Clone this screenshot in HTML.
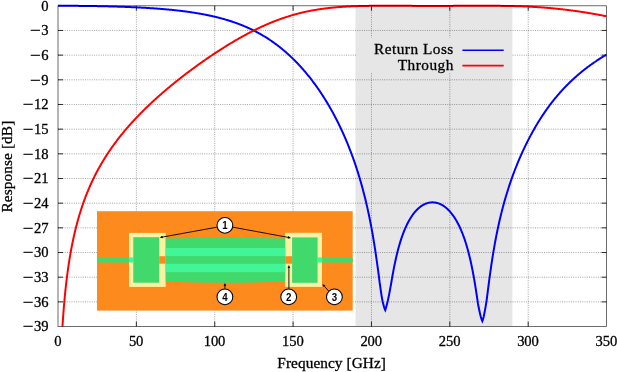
<!DOCTYPE html>
<html><head><meta charset="utf-8"><title>Filter response</title>
<style>html,body{margin:0;padding:0;background:#fff}svg{display:block}</style></head>
<body>
<svg width="617" height="372" viewBox="0 0 617 372">
<defs><clipPath id="pc"><rect x="58.00" y="3.78" width="548.55" height="322.77"/></clipPath></defs>
<rect x="0" y="0" width="617" height="372" fill="#fff"/>
<rect x="355.50" y="6.28" width="156.90" height="319.77" fill="#e6e6e6"/>
<path d="M136.36,5.78 V326.55 M214.73,5.78 V326.55 M293.09,5.78 V326.55 M371.46,5.78 V326.55 M449.82,5.78 V326.55 M528.19,5.78 V326.55 M58.00,301.88 H606.55 M58.00,277.20 H606.55 M58.00,252.53 H606.55 M58.00,227.85 H606.55 M58.00,203.18 H606.55 M58.00,178.50 H606.55 M58.00,153.83 H606.55 M58.00,129.15 H606.55 M58.00,104.48 H606.55 M58.00,79.80 H606.55 M58.00,55.13 H606.55 M58.00,30.45 H606.55" fill="none" stroke="#000" stroke-opacity="0.36" stroke-width="1" stroke-dasharray="1 1.25"/>
<rect x="356.5" y="37.5" width="155.5" height="35.5" fill="#e6e6e6"/>
<path d="M136.36,326.55 v-5 M136.36,5.78 v5 M214.73,326.55 v-5 M214.73,5.78 v5 M293.09,326.55 v-5 M293.09,5.78 v5 M371.46,326.55 v-5 M371.46,5.78 v5 M449.82,326.55 v-5 M449.82,5.78 v5 M528.19,326.55 v-5 M528.19,5.78 v5 M58.00,301.88 h5 M606.55,301.88 h-5 M58.00,277.20 h5 M606.55,277.20 h-5 M58.00,252.53 h5 M606.55,252.53 h-5 M58.00,227.85 h5 M606.55,227.85 h-5 M58.00,203.18 h5 M606.55,203.18 h-5 M58.00,178.50 h5 M606.55,178.50 h-5 M58.00,153.83 h5 M606.55,153.83 h-5 M58.00,129.15 h5 M606.55,129.15 h-5 M58.00,104.48 h5 M606.55,104.48 h-5 M58.00,79.80 h5 M606.55,79.80 h-5 M58.00,55.13 h5 M606.55,55.13 h-5 M58.00,30.45 h5 M606.55,30.45 h-5" fill="none" stroke="#000" stroke-width="0.8"/>
<g clip-path="url(#pc)" fill="none" stroke-width="2.0" stroke-linejoin="miter" stroke-miterlimit="4">
<path d="M58.00,5.78 L58.39,5.78 L58.78,5.78 L59.18,5.78 L59.57,5.78 L59.96,5.78 L60.35,5.78 L60.74,5.78 L61.13,5.78 L61.53,5.78 L61.92,5.78 L62.31,5.78 L62.70,5.78 L63.09,5.79 L63.49,5.79 L63.88,5.79 L64.27,5.79 L64.66,5.79 L65.05,5.79 L65.44,5.79 L65.84,5.79 L66.23,5.80 L66.62,5.80 L67.01,5.80 L67.40,5.80 L67.80,5.80 L68.19,5.80 L68.58,5.81 L68.97,5.81 L69.36,5.81 L69.75,5.81 L70.15,5.81 L70.54,5.82 L70.93,5.82 L71.32,5.82 L71.71,5.82 L72.11,5.82 L72.50,5.83 L72.89,5.83 L73.28,5.83 L73.67,5.83 L74.06,5.84 L74.46,5.84 L74.85,5.84 L75.24,5.85 L75.63,5.85 L76.02,5.85 L76.42,5.86 L76.81,5.86 L77.20,5.86 L77.59,5.87 L77.98,5.87 L78.37,5.87 L78.77,5.88 L79.16,5.88 L79.55,5.88 L79.94,5.89 L80.33,5.89 L80.73,5.90 L81.12,5.90 L81.51,5.90 L81.90,5.91 L82.29,5.91 L82.68,5.92 L83.08,5.92 L83.47,5.93 L83.86,5.93 L84.25,5.93 L84.64,5.94 L85.04,5.94 L85.43,5.95 L85.82,5.95 L86.21,5.96 L86.60,5.96 L86.99,5.97 L87.39,5.97 L87.78,5.98 L88.17,5.98 L88.56,5.99 L88.95,6.00 L89.35,6.00 L89.74,6.01 L90.13,6.01 L90.52,6.02 L90.91,6.02 L91.30,6.03 L91.70,6.04 L92.09,6.04 L92.48,6.05 L92.87,6.05 L93.26,6.06 L93.66,6.07 L94.05,6.07 L94.44,6.08 L94.83,6.09 L95.22,6.09 L95.61,6.10 L96.01,6.11 L96.40,6.11 L96.79,6.12 L97.18,6.13 L97.57,6.14 L97.97,6.14 L98.36,6.15 L98.75,6.16 L99.14,6.17 L99.53,6.17 L99.92,6.18 L100.32,6.19 L100.71,6.20 L101.10,6.21 L101.49,6.21 L101.88,6.22 L102.28,6.23 L102.67,6.24 L103.06,6.25 L103.45,6.26 L103.84,6.26 L104.23,6.27 L104.63,6.28 L105.02,6.29 L105.41,6.30 L105.80,6.31 L106.19,6.32 L106.59,6.33 L106.98,6.34 L107.37,6.35 L107.76,6.36 L108.15,6.37 L108.54,6.38 L108.94,6.39 L109.33,6.40 L109.72,6.41 L110.11,6.42 L110.50,6.43 L110.90,6.44 L111.29,6.45 L111.68,6.46 L112.07,6.47 L112.46,6.48 L112.85,6.49 L113.25,6.50 L113.64,6.51 L114.03,6.52 L114.42,6.54 L114.81,6.55 L115.21,6.56 L115.60,6.57 L115.99,6.58 L116.38,6.59 L116.77,6.61 L117.17,6.62 L117.56,6.63 L117.95,6.64 L118.34,6.66 L118.73,6.67 L119.12,6.68 L119.52,6.69 L119.91,6.71 L120.30,6.72 L120.69,6.73 L121.08,6.75 L121.48,6.76 L121.87,6.77 L122.26,6.79 L122.65,6.80 L123.04,6.81 L123.43,6.83 L123.83,6.84 L124.22,6.86 L124.61,6.87 L125.00,6.89 L125.39,6.90 L125.79,6.92 L126.18,6.93 L126.57,6.95 L126.96,6.96 L127.35,6.98 L127.74,6.99 L128.14,7.01 L128.53,7.02 L128.92,7.04 L129.31,7.06 L129.70,7.07 L130.10,7.09 L130.49,7.10 L130.88,7.12 L131.27,7.14 L131.66,7.15 L132.05,7.17 L132.45,7.19 L132.84,7.21 L133.23,7.22 L133.62,7.24 L134.01,7.26 L134.41,7.28 L134.80,7.30 L135.19,7.31 L135.58,7.33 L135.97,7.35 L136.36,7.37 L136.76,7.39 L137.15,7.41 L137.54,7.43 L137.93,7.45 L138.32,7.47 L138.72,7.49 L139.11,7.51 L139.50,7.53 L139.89,7.55 L140.28,7.57 L140.67,7.59 L141.07,7.61 L141.46,7.63 L141.85,7.65 L142.24,7.67 L142.63,7.69 L143.03,7.71 L143.42,7.74 L143.81,7.76 L144.20,7.78 L144.59,7.80 L144.98,7.82 L145.38,7.85 L145.77,7.87 L146.16,7.89 L146.55,7.92 L146.94,7.94 L147.34,7.96 L147.73,7.99 L148.12,8.01 L148.51,8.04 L148.90,8.06 L149.29,8.08 L149.69,8.11 L150.08,8.13 L150.47,8.16 L150.86,8.19 L151.25,8.21 L151.65,8.24 L152.04,8.26 L152.43,8.29 L152.82,8.32 L153.21,8.34 L153.60,8.37 L154.00,8.40 L154.39,8.42 L154.78,8.45 L155.17,8.48 L155.56,8.51 L155.96,8.54 L156.35,8.56 L156.74,8.59 L157.13,8.62 L157.52,8.65 L157.91,8.68 L158.31,8.71 L158.70,8.74 L159.09,8.77 L159.48,8.80 L159.87,8.83 L160.27,8.86 L160.66,8.89 L161.05,8.93 L161.44,8.96 L161.83,8.99 L162.22,9.02 L162.62,9.05 L163.01,9.09 L163.40,9.12 L163.79,9.15 L164.18,9.19 L164.58,9.22 L164.97,9.25 L165.36,9.29 L165.75,9.32 L166.14,9.36 L166.53,9.39 L166.93,9.43 L167.32,9.46 L167.71,9.50 L168.10,9.54 L168.49,9.57 L168.89,9.61 L169.28,9.65 L169.67,9.68 L170.06,9.72 L170.45,9.76 L170.84,9.80 L171.24,9.84 L171.63,9.87 L172.02,9.91 L172.41,9.95 L172.80,9.99 L173.20,10.03 L173.59,10.07 L173.98,10.12 L174.37,10.16 L174.76,10.20 L175.15,10.24 L175.55,10.28 L175.94,10.32 L176.33,10.37 L176.72,10.41 L177.11,10.45 L177.51,10.50 L177.90,10.54 L178.29,10.59 L178.68,10.63 L179.07,10.68 L179.46,10.72 L179.86,10.77 L180.25,10.81 L180.64,10.86 L181.03,10.91 L181.42,10.96 L181.82,11.00 L182.21,11.05 L182.60,11.10 L182.99,11.15 L183.38,11.20 L183.77,11.25 L184.17,11.30 L184.56,11.35 L184.95,11.40 L185.34,11.45 L185.73,11.50 L186.13,11.56 L186.52,11.61 L186.91,11.66 L187.30,11.71 L187.69,11.77 L188.08,11.82 L188.48,11.88 L188.87,11.93 L189.26,11.99 L189.65,12.04 L190.04,12.10 L190.44,12.16 L190.83,12.21 L191.22,12.27 L191.61,12.33 L192.00,12.39 L192.39,12.45 L192.79,12.51 L193.18,12.57 L193.57,12.63 L193.96,12.69 L194.35,12.75 L194.75,12.81 L195.14,12.88 L195.53,12.94 L195.92,13.00 L196.31,13.07 L196.70,13.13 L197.10,13.20 L197.49,13.26 L197.88,13.33 L198.27,13.39 L198.66,13.46 L199.06,13.53 L199.45,13.60 L199.84,13.67 L200.23,13.73 L200.62,13.80 L201.01,13.87 L201.41,13.95 L201.80,14.02 L202.19,14.09 L202.58,14.16 L202.97,14.23 L203.37,14.31 L203.76,14.38 L204.15,14.46 L204.54,14.53 L204.93,14.61 L205.32,14.69 L205.72,14.76 L206.11,14.84 L206.50,14.92 L206.89,15.00 L207.28,15.08 L207.68,15.16 L208.07,15.24 L208.46,15.32 L208.85,15.40 L209.24,15.49 L209.63,15.57 L210.03,15.65 L210.42,15.74 L210.81,15.82 L211.20,15.91 L211.59,16.00 L211.99,16.08 L212.38,16.17 L212.77,16.26 L213.16,16.35 L213.55,16.44 L213.94,16.53 L214.34,16.62 L214.73,16.72 L215.12,16.81 L215.51,16.90 L215.90,17.00 L216.30,17.09 L216.69,17.19 L217.08,17.28 L217.47,17.38 L217.86,17.48 L218.25,17.58 L218.65,17.68 L219.04,17.78 L219.43,17.88 L219.82,17.98 L220.21,18.09 L220.61,18.19 L221.00,18.29 L221.39,18.40 L221.78,18.51 L222.17,18.61 L222.56,18.72 L222.96,18.83 L223.35,18.94 L223.74,19.05 L224.13,19.16 L224.52,19.27 L224.92,19.38 L225.31,19.50 L225.70,19.61 L226.09,19.73 L226.48,19.84 L226.88,19.96 L227.27,20.08 L227.66,20.20 L228.05,20.32 L228.44,20.44 L228.83,20.56 L229.23,20.68 L229.62,20.81 L230.01,20.93 L230.40,21.06 L230.79,21.19 L231.19,21.31 L231.58,21.44 L231.97,21.57 L232.36,21.70 L232.75,21.83 L233.14,21.97 L233.54,22.10 L233.93,22.23 L234.32,22.37 L234.71,22.51 L235.10,22.64 L235.50,22.78 L235.89,22.92 L236.28,23.06 L236.67,23.20 L237.06,23.35 L237.45,23.49 L237.85,23.64 L238.24,23.78 L238.63,23.93 L239.02,24.08 L239.41,24.23 L239.81,24.38 L240.20,24.53 L240.59,24.68 L240.98,24.84 L241.37,24.99 L241.76,25.15 L242.16,25.30 L242.55,25.46 L242.94,25.62 L243.33,25.78 L243.72,25.95 L244.12,26.11 L244.51,26.27 L244.90,26.44 L245.29,26.61 L245.68,26.78 L246.07,26.95 L246.47,27.12 L246.86,27.29 L247.25,27.46 L247.64,27.64 L248.03,27.81 L248.43,27.99 L248.82,28.17 L249.21,28.35 L249.60,28.53 L249.99,28.71 L250.38,28.90 L250.78,29.08 L251.17,29.27 L251.56,29.46 L251.95,29.65 L252.34,29.84 L252.74,30.03 L253.13,30.22 L253.52,30.42 L253.91,30.61 L254.30,30.81 L254.69,31.01 L255.09,31.21 L255.48,31.41 L255.87,31.62 L256.26,31.82 L256.65,32.03 L257.05,32.24 L257.44,32.45 L257.83,32.66 L258.22,32.87 L258.61,33.08 L259.00,33.30 L259.40,33.52 L259.79,33.73 L260.18,33.95 L260.57,34.18 L260.96,34.40 L261.36,34.62 L261.75,34.85 L262.14,35.08 L262.53,35.31 L262.92,35.54 L263.31,35.77 L263.71,36.01 L264.10,36.24 L264.49,36.48 L264.88,36.72 L265.27,36.96 L265.67,37.20 L266.06,37.45 L266.45,37.69 L266.84,37.94 L267.23,38.19 L267.62,38.44 L268.02,38.70 L268.41,38.95 L268.80,39.21 L269.19,39.46 L269.58,39.72 L269.98,39.99 L270.37,40.25 L270.76,40.51 L271.15,40.78 L271.54,41.05 L271.93,41.32 L272.33,41.59 L272.72,41.87 L273.11,42.14 L273.50,42.42 L273.89,42.70 L274.29,42.98 L274.68,43.27 L275.07,43.55 L275.46,43.84 L275.85,44.13 L276.24,44.42 L276.64,44.71 L277.03,45.01 L277.42,45.30 L277.81,45.60 L278.20,45.90 L278.60,46.21 L278.99,46.51 L279.38,46.82 L279.77,47.13 L280.16,47.44 L280.55,47.75 L280.95,48.07 L281.34,48.38 L281.73,48.70 L282.12,49.02 L282.51,49.35 L282.91,49.67 L283.30,50.00 L283.69,50.33 L284.08,50.66 L284.47,50.99 L284.86,51.33 L285.26,51.67 L285.65,52.01 L286.04,52.35 L286.43,52.69 L286.82,53.04 L287.22,53.39 L287.61,53.74 L288.00,54.09 L288.39,54.45 L288.78,54.80 L289.17,55.16 L289.57,55.52 L289.96,55.89 L290.35,56.26 L290.74,56.62 L291.13,57.00 L291.53,57.37 L291.92,57.74 L292.31,58.12 L292.70,58.50 L293.09,58.89 L293.48,59.25 L293.88,59.64 L294.27,60.03 L294.66,60.42 L295.05,60.82 L295.44,61.21 L295.84,61.61 L296.23,62.01 L296.62,62.42 L297.01,62.82 L297.40,63.23 L297.79,63.64 L298.19,64.06 L298.58,64.47 L298.97,64.89 L299.36,65.32 L299.75,65.74 L300.15,66.17 L300.54,66.60 L300.93,67.03 L301.32,67.46 L301.71,67.90 L302.10,68.34 L302.50,68.78 L302.89,69.23 L303.28,69.67 L303.67,70.12 L304.06,70.58 L304.46,71.03 L304.85,71.49 L305.24,71.95 L305.63,72.42 L306.02,72.88 L306.41,73.35 L306.81,73.83 L307.20,74.30 L307.59,74.78 L307.98,75.26 L308.37,75.75 L308.77,76.23 L309.16,76.72 L309.55,77.22 L309.94,77.71 L310.33,78.21 L310.72,78.71 L311.12,79.22 L311.51,79.72 L311.90,80.24 L312.29,80.75 L312.68,81.27 L313.08,81.79 L313.47,82.31 L313.86,82.84 L314.25,83.37 L314.64,83.90 L315.03,84.43 L315.43,84.97 L315.82,85.52 L316.21,86.06 L316.60,86.61 L316.99,87.16 L317.39,87.72 L317.78,88.28 L318.17,88.84 L318.56,89.41 L318.95,89.98 L319.34,90.55 L319.74,91.13 L320.13,91.71 L320.52,92.29 L320.91,92.88 L321.30,93.47 L321.70,94.06 L322.09,94.66 L322.48,95.26 L322.87,95.87 L323.26,96.48 L323.65,97.09 L324.05,97.71 L324.44,98.33 L324.83,98.96 L325.22,99.59 L325.61,100.22 L326.01,100.86 L326.40,101.50 L326.79,102.14 L327.18,102.79 L327.57,103.45 L327.96,104.10 L328.36,104.77 L328.75,105.43 L329.14,106.10 L329.53,106.78 L329.92,107.46 L330.32,108.14 L330.71,108.83 L331.10,109.53 L331.49,110.22 L331.88,110.93 L332.27,111.64 L332.67,112.35 L333.06,113.06 L333.45,113.79 L333.84,114.51 L334.23,115.25 L334.63,115.98 L335.02,116.73 L335.41,117.47 L335.80,118.23 L336.19,118.99 L336.59,119.75 L336.98,120.52 L337.37,121.29 L337.76,122.07 L338.15,122.86 L338.54,123.65 L338.94,124.45 L339.33,125.25 L339.72,126.06 L340.11,126.88 L340.50,127.70 L340.90,128.53 L341.29,129.37 L341.68,130.21 L342.07,131.06 L342.46,131.91 L342.85,132.77 L343.25,133.64 L343.64,134.52 L344.03,135.40 L344.42,136.29 L344.81,137.19 L345.21,138.09 L345.60,139.00 L345.99,139.92 L346.38,140.85 L346.77,141.78 L347.16,142.73 L347.56,143.68 L347.95,144.64 L348.34,145.61 L348.73,146.59 L349.12,147.57 L349.52,148.57 L349.91,149.57 L350.30,150.59 L350.69,151.61 L351.08,152.64 L351.47,153.69 L351.87,154.74 L352.26,155.80 L352.65,156.88 L353.04,157.96 L353.43,159.06 L353.83,160.17 L354.22,161.29 L354.61,162.42 L355.00,163.56 L355.39,164.71 L355.78,165.88 L356.18,167.06 L356.57,168.25 L356.96,169.46 L357.35,170.68 L357.74,171.91 L358.14,173.16 L358.53,174.43 L358.92,175.70 L359.31,177.00 L359.70,178.31 L360.09,179.63 L360.49,180.98 L360.88,182.34 L361.27,183.72 L361.66,185.11 L362.05,186.53 L362.45,187.96 L362.84,189.42 L363.23,190.89 L363.62,192.39 L364.01,193.90 L364.40,195.44 L364.80,197.00 L365.19,198.59 L365.58,200.20 L365.97,201.83 L366.36,203.50 L366.76,205.18 L367.15,206.90 L367.54,208.64 L367.93,210.42 L368.32,212.22 L368.71,214.05 L369.11,215.92 L369.50,217.82 L369.89,219.76 L370.28,221.73 L370.67,223.74 L371.07,225.79 L371.46,227.88 L371.85,230.01 L372.24,232.18 L372.63,234.40 L373.02,236.66 L373.42,238.97 L373.81,241.32 L374.20,243.73 L374.59,246.19 L374.98,248.70 L375.38,251.26 L375.77,253.87 L376.16,256.54 L376.55,259.27 L376.94,262.05 L377.33,264.88 L377.73,267.76 L378.12,270.68 L378.51,273.65 L378.90,276.66 L379.29,279.69 L379.69,282.74 L380.08,285.23 L380.39,287.54 L380.70,289.81 L381.02,292.00 L381.33,294.10 L381.64,296.09 L381.96,297.94 L382.27,299.65 L382.58,301.18 L382.90,302.54 L383.21,303.82 L383.53,305.03 L383.84,306.16 L384.15,307.21 L384.47,308.16 L384.78,309.02 L385.09,309.77 L385.25,310.10 L385.56,309.12 L385.88,308.08 L386.19,307.00 L386.50,305.87 L386.82,304.70 L387.13,303.47 L387.44,302.20 L387.76,300.88 L388.07,299.48 L388.38,298.02 L388.70,296.51 L389.01,294.95 L389.32,293.34 L389.64,291.70 L389.95,290.03 L390.26,288.34 L390.58,286.64 L391.05,284.08 L391.44,281.73 L391.83,279.43 L392.22,277.17 L392.62,274.96 L393.01,272.81 L393.40,270.71 L393.79,268.66 L394.18,266.67 L394.57,264.73 L394.97,262.84 L395.36,261.01 L395.75,259.23 L396.14,257.50 L396.53,255.82 L396.93,254.18 L397.32,252.59 L397.71,251.05 L398.10,249.55 L398.49,248.09 L398.88,246.67 L399.28,245.29 L399.67,243.95 L400.06,242.64 L400.45,241.37 L400.84,240.14 L401.24,238.94 L401.63,237.77 L402.02,236.63 L402.41,235.53 L402.80,234.45 L403.19,233.40 L403.59,232.38 L403.98,231.38 L404.37,230.41 L404.76,229.47 L405.15,228.55 L405.55,227.66 L405.94,226.79 L406.33,225.94 L406.72,225.11 L407.11,224.30 L407.50,223.52 L407.90,222.75 L408.29,222.01 L408.68,221.28 L409.07,220.58 L409.46,219.89 L409.86,219.22 L410.25,218.57 L410.64,217.93 L411.03,217.31 L411.42,216.71 L411.81,216.12 L412.21,215.55 L412.60,215.00 L412.99,214.46 L413.38,213.93 L413.77,213.42 L414.17,212.92 L414.56,212.44 L414.95,211.97 L415.34,211.52 L415.73,211.07 L416.12,210.65 L416.52,210.23 L416.91,209.82 L417.30,209.43 L417.69,209.05 L418.08,208.69 L418.48,208.33 L418.87,207.99 L419.26,207.65 L419.65,207.33 L420.04,207.02 L420.43,206.72 L420.83,206.43 L421.22,206.16 L421.61,205.89 L422.00,205.63 L422.39,205.39 L422.79,205.15 L423.18,204.93 L423.57,204.71 L423.96,204.50 L424.35,204.31 L424.74,204.12 L425.14,203.95 L425.53,203.78 L425.92,203.62 L426.31,203.48 L426.70,203.34 L427.10,203.21 L427.49,203.09 L427.88,202.98 L428.27,202.88 L428.66,202.78 L429.05,202.70 L429.45,202.63 L429.84,202.56 L430.23,202.51 L430.62,202.46 L431.01,202.42 L431.41,202.39 L431.80,202.37 L432.19,202.36 L432.58,202.36 L432.97,202.36 L433.36,202.38 L433.76,202.40 L434.15,202.43 L434.54,202.48 L434.93,202.53 L435.32,202.59 L435.72,202.65 L436.11,202.73 L436.50,202.82 L436.89,202.91 L437.28,203.01 L437.67,203.13 L438.07,203.25 L438.46,203.38 L438.85,203.52 L439.24,203.67 L439.63,203.83 L440.03,203.99 L440.42,204.17 L440.81,204.36 L441.20,204.55 L441.59,204.76 L441.99,204.97 L442.38,205.20 L442.77,205.43 L443.16,205.67 L443.55,205.93 L443.94,206.19 L444.34,206.47 L444.73,206.75 L445.12,207.05 L445.51,207.35 L445.90,207.67 L446.30,207.99 L446.69,208.33 L447.08,208.68 L447.47,209.04 L447.86,209.41 L448.25,209.79 L448.65,210.19 L449.04,210.59 L449.43,211.01 L449.82,211.44 L450.21,211.88 L450.61,212.33 L451.00,212.80 L451.39,213.28 L451.78,213.78 L452.17,214.28 L452.56,214.80 L452.96,215.34 L453.35,215.89 L453.74,216.45 L454.13,217.03 L454.52,217.62 L454.92,218.23 L455.31,218.85 L455.70,219.49 L456.09,220.15 L456.48,220.82 L456.87,221.51 L457.27,222.22 L457.66,222.95 L458.05,223.69 L458.44,224.46 L458.83,225.24 L459.23,226.04 L459.62,226.87 L460.01,227.71 L460.40,228.57 L460.79,229.46 L461.18,230.37 L461.58,231.30 L461.97,232.26 L462.36,233.24 L462.75,234.24 L463.14,235.28 L463.54,236.33 L463.93,237.42 L464.32,238.53 L464.71,239.67 L465.10,240.85 L465.49,242.05 L465.89,243.29 L466.28,244.55 L466.67,245.86 L467.06,247.20 L467.45,248.57 L467.85,249.98 L468.24,251.44 L468.63,252.93 L469.02,254.46 L469.41,256.04 L469.80,257.66 L470.20,259.33 L470.59,261.05 L470.98,262.82 L471.37,264.63 L471.76,266.51 L472.16,268.43 L472.55,270.41 L472.94,272.45 L473.33,274.55 L473.72,276.71 L474.11,278.93 L474.51,281.21 L474.90,283.55 L475.29,285.95 L475.68,288.41 L476.07,290.92 L476.47,293.48 L476.86,296.08 L477.25,298.71 L477.64,301.37 L478.03,304.02 L478.35,305.64 L478.66,307.24 L478.97,308.80 L479.29,310.31 L479.60,311.78 L479.91,313.18 L480.23,314.52 L480.54,315.78 L480.85,316.96 L481.17,318.05 L481.48,319.04 L481.79,319.93 L482.11,320.70 L482.34,321.20 L482.66,320.32 L482.97,319.31 L483.28,318.17 L483.60,316.91 L483.91,315.55 L484.22,314.08 L484.54,312.53 L484.85,310.89 L485.16,309.17 L485.48,307.40 L485.79,305.56 L486.10,303.68 L486.42,301.75 L486.65,300.29 L487.04,297.17 L487.44,294.04 L487.83,290.93 L488.22,287.84 L488.61,284.78 L489.00,281.77 L489.40,278.81 L489.79,275.91 L490.18,273.06 L490.57,270.28 L490.96,267.55 L491.35,264.88 L491.75,262.28 L492.14,259.73 L492.53,257.24 L492.92,254.81 L493.31,252.43 L493.71,250.10 L494.10,247.83 L494.49,245.60 L494.88,243.43 L495.27,241.30 L495.66,239.21 L496.06,237.17 L496.45,235.17 L496.84,233.21 L497.23,231.29 L497.62,229.41 L498.02,227.57 L498.41,225.76 L498.80,223.98 L499.19,222.23 L499.58,220.52 L499.97,218.84 L500.37,217.18 L500.76,215.56 L501.15,213.96 L501.54,212.38 L501.93,210.84 L502.33,209.31 L502.72,207.81 L503.11,206.34 L503.50,204.88 L503.89,203.45 L504.28,202.04 L504.68,200.65 L505.07,199.28 L505.46,197.92 L505.85,196.59 L506.24,195.27 L506.64,193.97 L507.03,192.69 L507.42,191.43 L507.81,190.18 L508.20,188.94 L508.59,187.72 L508.99,186.52 L509.38,185.33 L509.77,184.15 L510.16,182.99 L510.55,181.84 L510.95,180.71 L511.34,179.59 L511.73,178.47 L512.12,177.38 L512.51,176.29 L512.90,175.21 L513.30,174.15 L513.69,173.10 L514.08,172.05 L514.47,171.02 L514.86,170.00 L515.26,168.99 L515.65,167.99 L516.04,166.99 L516.43,166.01 L516.82,165.04 L517.21,164.07 L517.61,163.12 L518.00,162.17 L518.39,161.23 L518.78,160.30 L519.17,159.38 L519.57,158.47 L519.96,157.56 L520.35,156.66 L520.74,155.77 L521.13,154.89 L521.52,154.01 L521.92,153.14 L522.31,152.28 L522.70,151.42 L523.09,150.58 L523.48,149.73 L523.88,148.90 L524.27,148.07 L524.66,147.25 L525.05,146.43 L525.44,145.62 L525.83,144.82 L526.23,144.02 L526.62,143.23 L527.01,142.44 L527.40,141.66 L527.79,140.89 L528.19,140.12 L528.58,139.36 L528.97,138.60 L529.36,137.85 L529.75,137.10 L530.14,136.36 L530.54,135.62 L530.93,134.89 L531.32,134.17 L531.71,133.45 L532.10,132.74 L532.50,132.03 L532.89,131.32 L533.28,130.62 L533.67,129.93 L534.06,129.24 L534.45,128.55 L534.85,127.87 L535.24,127.20 L535.63,126.53 L536.02,125.86 L536.41,125.20 L536.81,124.55 L537.20,123.89 L537.59,123.25 L537.98,122.60 L538.37,121.97 L538.76,121.33 L539.16,120.70 L539.55,120.08 L539.94,119.46 L540.33,118.84 L540.72,118.23 L541.12,117.62 L541.51,117.02 L541.90,116.42 L542.29,115.82 L542.68,115.23 L543.07,114.64 L543.47,114.06 L543.86,113.48 L544.25,112.90 L544.64,112.33 L545.03,111.76 L545.43,111.19 L545.82,110.63 L546.21,110.08 L546.60,109.52 L546.99,108.97 L547.38,108.43 L547.78,107.89 L548.17,107.35 L548.56,106.81 L548.95,106.28 L549.34,105.75 L549.74,105.23 L550.13,104.70 L550.52,104.19 L550.91,103.67 L551.30,103.16 L551.69,102.65 L552.09,102.15 L552.48,101.65 L552.87,101.15 L553.26,100.65 L553.65,100.16 L554.05,99.67 L554.44,99.19 L554.83,98.71 L555.22,98.23 L555.61,97.75 L556.01,97.28 L556.40,96.81 L556.79,96.34 L557.18,95.88 L557.57,95.42 L557.96,94.96 L558.36,94.50 L558.75,94.05 L559.14,93.60 L559.53,93.16 L559.92,92.71 L560.32,92.27 L560.71,91.83 L561.10,91.40 L561.49,90.96 L561.88,90.53 L562.27,90.11 L562.67,89.68 L563.06,89.26 L563.45,88.84 L563.84,88.42 L564.23,88.01 L564.63,87.60 L565.02,87.19 L565.41,86.78 L565.80,86.37 L566.19,85.97 L566.58,85.57 L566.98,85.17 L567.37,84.78 L567.76,84.39 L568.15,84.00 L568.54,83.61 L568.94,83.22 L569.33,82.84 L569.72,82.46 L570.11,82.08 L570.50,81.70 L570.89,81.32 L571.29,80.95 L571.68,80.58 L572.07,80.21 L572.46,79.85 L572.85,79.48 L573.25,79.12 L573.64,78.76 L574.03,78.40 L574.42,78.05 L574.81,77.69 L575.20,77.34 L575.60,76.99 L575.99,76.64 L576.38,76.30 L576.77,75.95 L577.16,75.61 L577.56,75.27 L577.95,74.93 L578.34,74.59 L578.73,74.26 L579.12,73.93 L579.51,73.60 L579.91,73.27 L580.30,72.94 L580.69,72.62 L581.08,72.29 L581.47,71.97 L581.87,71.65 L582.26,71.33 L582.65,71.02 L583.04,70.70 L583.43,70.39 L583.82,70.08 L584.22,69.77 L584.61,69.46 L585.00,69.15 L585.39,68.85 L585.78,68.55 L586.18,68.24 L586.57,67.95 L586.96,67.65 L587.35,67.35 L587.74,67.06 L588.13,66.76 L588.53,66.47 L588.92,66.18 L589.31,65.89 L589.70,65.61 L590.09,65.32 L590.49,65.04 L590.88,64.76 L591.27,64.47 L591.66,64.20 L592.05,63.92 L592.44,63.64 L592.84,63.37 L593.23,63.09 L593.62,62.82 L594.01,62.55 L594.40,62.28 L594.80,62.02 L595.19,61.75 L595.58,61.48 L595.97,61.22 L596.36,60.96 L596.75,60.70 L597.15,60.44 L597.54,60.18 L597.93,59.93 L598.32,59.67 L598.71,59.42 L599.11,59.16 L599.50,58.91 L599.89,58.66 L600.28,58.42 L600.67,58.17 L601.06,57.92 L601.46,57.68 L601.85,57.44 L602.24,57.19 L602.63,56.95 L603.02,56.71 L603.42,56.48 L603.81,56.24 L604.20,56.00 L604.59,55.77 L604.98,55.54 L605.37,55.30 L605.77,55.07 L606.16,54.84 L606.55,54.62" stroke="#0000ff"/>
<path d="M60.35,372.23 L60.74,361.24 L61.13,351.72 L61.53,343.33 L61.92,335.83 L62.31,329.04 L62.70,322.85 L63.09,317.15 L63.49,311.88 L63.88,306.97 L64.27,302.38 L64.66,298.06 L65.05,294.00 L65.44,290.15 L65.84,286.51 L66.23,283.04 L66.62,279.73 L67.01,276.57 L67.40,273.54 L67.80,270.64 L68.19,267.85 L68.58,265.17 L68.97,262.58 L69.36,260.09 L69.75,257.68 L70.15,255.35 L70.54,253.09 L70.93,250.90 L71.32,248.78 L71.71,246.72 L72.11,244.71 L72.50,242.76 L72.89,240.87 L73.28,239.02 L73.67,237.22 L74.06,235.46 L74.46,233.74 L74.85,232.07 L75.24,230.43 L75.63,228.83 L76.02,227.26 L76.42,225.73 L76.81,224.22 L77.20,222.75 L77.59,221.31 L77.98,219.90 L78.37,218.51 L78.77,217.15 L79.16,215.81 L79.55,214.50 L79.94,213.21 L80.33,211.95 L80.73,210.70 L81.12,209.48 L81.51,208.27 L81.90,207.09 L82.29,205.92 L82.68,204.78 L83.08,203.64 L83.47,202.53 L83.86,201.43 L84.25,200.35 L84.64,199.29 L85.04,198.24 L85.43,197.20 L85.82,196.18 L86.21,195.17 L86.60,194.18 L86.99,193.19 L87.39,192.23 L87.78,191.27 L88.17,190.32 L88.56,189.39 L88.95,188.47 L89.35,187.56 L89.74,186.66 L90.13,185.77 L90.52,184.89 L90.91,184.02 L91.30,183.15 L91.70,182.30 L92.09,181.46 L92.48,180.63 L92.87,179.81 L93.26,178.99 L93.66,178.18 L94.05,177.39 L94.44,176.59 L94.83,175.81 L95.22,175.04 L95.61,174.27 L96.01,173.51 L96.40,172.76 L96.79,172.01 L97.18,171.27 L97.57,170.54 L97.97,169.81 L98.36,169.09 L98.75,168.38 L99.14,167.67 L99.53,166.97 L99.92,166.28 L100.32,165.59 L100.71,164.90 L101.10,164.23 L101.49,163.55 L101.88,162.89 L102.28,162.22 L102.67,161.57 L103.06,160.92 L103.45,160.27 L103.84,159.63 L104.23,158.99 L104.63,158.36 L105.02,157.73 L105.41,157.11 L105.80,156.49 L106.19,155.88 L106.59,155.27 L106.98,154.66 L107.37,154.06 L107.76,153.47 L108.15,152.87 L108.54,152.29 L108.94,151.70 L109.33,151.12 L109.72,150.54 L110.11,149.97 L110.50,149.40 L110.90,148.83 L111.29,148.27 L111.68,147.71 L112.07,147.15 L112.46,146.60 L112.85,146.05 L113.25,145.51 L113.64,144.97 L114.03,144.43 L114.42,143.89 L114.81,143.36 L115.21,142.83 L115.60,142.30 L115.99,141.78 L116.38,141.25 L116.77,140.74 L117.17,140.22 L117.56,139.71 L117.95,139.20 L118.34,138.69 L118.73,138.19 L119.12,137.68 L119.52,137.18 L119.91,136.69 L120.30,136.19 L120.69,135.70 L121.08,135.21 L121.48,134.72 L121.87,134.24 L122.26,133.76 L122.65,133.28 L123.04,132.80 L123.43,132.33 L123.83,131.85 L124.22,131.38 L124.61,130.91 L125.00,130.45 L125.39,129.98 L125.79,129.52 L126.18,129.06 L126.57,128.60 L126.96,128.14 L127.35,127.69 L127.74,127.24 L128.14,126.79 L128.53,126.34 L128.92,125.89 L129.31,125.45 L129.70,125.01 L130.10,124.56 L130.49,124.13 L130.88,123.69 L131.27,123.25 L131.66,122.82 L132.05,122.39 L132.45,121.96 L132.84,121.53 L133.23,121.10 L133.62,120.67 L134.01,120.25 L134.41,119.83 L134.80,119.41 L135.19,118.99 L135.58,118.57 L135.97,118.16 L136.36,117.74 L136.76,117.33 L137.15,116.92 L137.54,116.51 L137.93,116.10 L138.32,115.69 L138.72,115.29 L139.11,114.88 L139.50,114.48 L139.89,114.08 L140.28,113.68 L140.67,113.28 L141.07,112.88 L141.46,112.49 L141.85,112.09 L142.24,111.70 L142.63,111.31 L143.03,110.92 L143.42,110.53 L143.81,110.14 L144.20,109.75 L144.59,109.36 L144.98,108.98 L145.38,108.60 L145.77,108.21 L146.16,107.83 L146.55,107.45 L146.94,107.08 L147.34,106.70 L147.73,106.32 L148.12,105.95 L148.51,105.57 L148.90,105.20 L149.29,104.83 L149.69,104.46 L150.08,104.09 L150.47,103.72 L150.86,103.35 L151.25,102.98 L151.65,102.62 L152.04,102.25 L152.43,101.89 L152.82,101.53 L153.21,101.17 L153.60,100.81 L154.00,100.45 L154.39,100.09 L154.78,99.73 L155.17,99.37 L155.56,99.02 L155.96,98.66 L156.35,98.31 L156.74,97.96 L157.13,97.61 L157.52,97.25 L157.91,96.90 L158.31,96.56 L158.70,96.21 L159.09,95.86 L159.48,95.51 L159.87,95.17 L160.27,94.82 L160.66,94.48 L161.05,94.14 L161.44,93.79 L161.83,93.45 L162.22,93.11 L162.62,92.77 L163.01,92.43 L163.40,92.10 L163.79,91.76 L164.18,91.42 L164.58,91.09 L164.97,90.75 L165.36,90.42 L165.75,90.09 L166.14,89.75 L166.53,89.42 L166.93,89.09 L167.32,88.76 L167.71,88.43 L168.10,88.10 L168.49,87.77 L168.89,87.45 L169.28,87.12 L169.67,86.79 L170.06,86.47 L170.45,86.15 L170.84,85.82 L171.24,85.50 L171.63,85.18 L172.02,84.85 L172.41,84.53 L172.80,84.21 L173.20,83.89 L173.59,83.58 L173.98,83.26 L174.37,82.94 L174.76,82.62 L175.15,82.31 L175.55,81.99 L175.94,81.68 L176.33,81.36 L176.72,81.05 L177.11,80.74 L177.51,80.43 L177.90,80.11 L178.29,79.80 L178.68,79.49 L179.07,79.18 L179.46,78.87 L179.86,78.57 L180.25,78.26 L180.64,77.95 L181.03,77.64 L181.42,77.34 L181.82,77.03 L182.21,76.73 L182.60,76.42 L182.99,76.12 L183.38,75.82 L183.77,75.52 L184.17,75.21 L184.56,74.91 L184.95,74.61 L185.34,74.31 L185.73,74.01 L186.13,73.71 L186.52,73.42 L186.91,73.12 L187.30,72.82 L187.69,72.53 L188.08,72.23 L188.48,71.93 L188.87,71.64 L189.26,71.35 L189.65,71.05 L190.04,70.76 L190.44,70.47 L190.83,70.17 L191.22,69.88 L191.61,69.59 L192.00,69.30 L192.39,69.01 L192.79,68.72 L193.18,68.44 L193.57,68.15 L193.96,67.86 L194.35,67.57 L194.75,67.29 L195.14,67.00 L195.53,66.72 L195.92,66.43 L196.31,66.15 L196.70,65.86 L197.10,65.58 L197.49,65.30 L197.88,65.01 L198.27,64.73 L198.66,64.45 L199.06,64.17 L199.45,63.89 L199.84,63.61 L200.23,63.33 L200.62,63.06 L201.01,62.78 L201.41,62.50 L201.80,62.22 L202.19,61.95 L202.58,61.67 L202.97,61.40 L203.37,61.12 L203.76,60.85 L204.15,60.57 L204.54,60.30 L204.93,60.03 L205.32,59.76 L205.72,59.49 L206.11,59.22 L206.50,58.94 L206.89,58.68 L207.28,58.41 L207.68,58.14 L208.07,57.87 L208.46,57.60 L208.85,57.33 L209.24,57.07 L209.63,56.80 L210.03,56.54 L210.42,56.27 L210.81,56.01 L211.20,55.74 L211.59,55.48 L211.99,55.22 L212.38,54.95 L212.77,54.69 L213.16,54.43 L213.55,54.17 L213.94,53.91 L214.34,53.65 L214.73,53.39 L215.12,53.13 L215.51,52.87 L215.90,52.62 L216.30,52.36 L216.69,52.10 L217.08,51.85 L217.47,51.59 L217.86,51.34 L218.25,51.08 L218.65,50.83 L219.04,50.58 L219.43,50.32 L219.82,50.07 L220.21,49.82 L220.61,49.57 L221.00,49.32 L221.39,49.07 L221.78,48.82 L222.17,48.57 L222.56,48.32 L222.96,48.08 L223.35,47.83 L223.74,47.58 L224.13,47.34 L224.52,47.09 L224.92,46.85 L225.31,46.60 L225.70,46.36 L226.09,46.12 L226.48,45.87 L226.88,45.63 L227.27,45.39 L227.66,45.15 L228.05,44.91 L228.44,44.67 L228.83,44.43 L229.23,44.19 L229.62,43.96 L230.01,43.72 L230.40,43.48 L230.79,43.25 L231.19,43.01 L231.58,42.78 L231.97,42.54 L232.36,42.31 L232.75,42.08 L233.14,41.84 L233.54,41.61 L233.93,41.38 L234.32,41.15 L234.71,40.92 L235.10,40.69 L235.50,40.46 L235.89,40.24 L236.28,40.01 L236.67,39.78 L237.06,39.56 L237.45,39.33 L237.85,39.11 L238.24,38.88 L238.63,38.66 L239.02,38.43 L239.41,38.21 L239.81,37.99 L240.20,37.77 L240.59,37.55 L240.98,37.33 L241.37,37.11 L241.76,36.89 L242.16,36.67 L242.55,36.46 L242.94,36.24 L243.33,36.03 L243.72,35.81 L244.12,35.60 L244.51,35.38 L244.90,35.17 L245.29,34.96 L245.68,34.75 L246.07,34.54 L246.47,34.33 L246.86,34.12 L247.25,33.91 L247.64,33.70 L248.03,33.49 L248.43,33.28 L248.82,33.08 L249.21,32.87 L249.60,32.67 L249.99,32.46 L250.38,32.26 L250.78,32.06 L251.17,31.86 L251.56,31.66 L251.95,31.46 L252.34,31.26 L252.74,31.06 L253.13,30.86 L253.52,30.66 L253.91,30.46 L254.30,30.27 L254.69,30.07 L255.09,29.88 L255.48,29.69 L255.87,29.49 L256.26,29.30 L256.65,29.11 L257.05,28.92 L257.44,28.73 L257.83,28.54 L258.22,28.35 L258.61,28.16 L259.00,27.98 L259.40,27.79 L259.79,27.61 L260.18,27.42 L260.57,27.24 L260.96,27.06 L261.36,26.87 L261.75,26.69 L262.14,26.51 L262.53,26.33 L262.92,26.15 L263.31,25.98 L263.71,25.80 L264.10,25.62 L264.49,25.45 L264.88,25.27 L265.27,25.10 L265.67,24.93 L266.06,24.75 L266.45,24.58 L266.84,24.41 L267.23,24.24 L267.62,24.07 L268.02,23.90 L268.41,23.74 L268.80,23.57 L269.19,23.40 L269.58,23.24 L269.98,23.08 L270.37,22.91 L270.76,22.75 L271.15,22.59 L271.54,22.43 L271.93,22.27 L272.33,22.11 L272.72,21.95 L273.11,21.79 L273.50,21.64 L273.89,21.48 L274.29,21.33 L274.68,21.17 L275.07,21.02 L275.46,20.87 L275.85,20.72 L276.24,20.57 L276.64,20.42 L277.03,20.27 L277.42,20.12 L277.81,19.98 L278.20,19.83 L278.60,19.69 L278.99,19.54 L279.38,19.40 L279.77,19.26 L280.16,19.11 L280.55,18.97 L280.95,18.83 L281.34,18.69 L281.73,18.56 L282.12,18.42 L282.51,18.28 L282.91,18.15 L283.30,18.01 L283.69,17.88 L284.08,17.75 L284.47,17.62 L284.86,17.48 L285.26,17.35 L285.65,17.22 L286.04,17.10 L286.43,16.97 L286.82,16.84 L287.22,16.72 L287.61,16.59 L288.00,16.47 L288.39,16.34 L288.78,16.22 L289.17,16.10 L289.57,15.98 L289.96,15.86 L290.35,15.74 L290.74,15.62 L291.13,15.51 L291.53,15.39 L291.92,15.28 L292.31,15.16 L292.70,15.05 L293.09,14.94 L293.48,14.82 L293.88,14.71 L294.27,14.60 L294.66,14.49 L295.05,14.39 L295.44,14.28 L295.84,14.17 L296.23,14.07 L296.62,13.96 L297.01,13.86 L297.40,13.75 L297.79,13.65 L298.19,13.55 L298.58,13.45 L298.97,13.35 L299.36,13.25 L299.75,13.15 L300.15,13.06 L300.54,12.96 L300.93,12.86 L301.32,12.77 L301.71,12.68 L302.10,12.58 L302.50,12.49 L302.89,12.40 L303.28,12.31 L303.67,12.22 L304.06,12.13 L304.46,12.04 L304.85,11.95 L305.24,11.87 L305.63,11.78 L306.02,11.70 L306.41,11.61 L306.81,11.53 L307.20,11.45 L307.59,11.37 L307.98,11.28 L308.37,11.20 L308.77,11.13 L309.16,11.05 L309.55,10.97 L309.94,10.89 L310.33,10.82 L310.72,10.74 L311.12,10.67 L311.51,10.59 L311.90,10.52 L312.29,10.45 L312.68,10.37 L313.08,10.30 L313.47,10.23 L313.86,10.16 L314.25,10.10 L314.64,10.03 L315.03,9.96 L315.43,9.89 L315.82,9.83 L316.21,9.76 L316.60,9.70 L316.99,9.63 L317.39,9.57 L317.78,9.51 L318.17,9.45 L318.56,9.39 L318.95,9.33 L319.34,9.27 L319.74,9.21 L320.13,9.15 L320.52,9.09 L320.91,9.04 L321.30,8.98 L321.70,8.93 L322.09,8.87 L322.48,8.82 L322.87,8.76 L323.26,8.71 L323.65,8.66 L324.05,8.61 L324.44,8.56 L324.83,8.51 L325.22,8.46 L325.61,8.41 L326.01,8.36 L326.40,8.31 L326.79,8.26 L327.18,8.22 L327.57,8.17 L327.96,8.13 L328.36,8.08 L328.75,8.04 L329.14,7.99 L329.53,7.95 L329.92,7.91 L330.32,7.87 L330.71,7.83 L331.10,7.79 L331.49,7.75 L331.88,7.71 L332.27,7.67 L332.67,7.63 L333.06,7.59 L333.45,7.55 L333.84,7.52 L334.23,7.48 L334.63,7.45 L335.02,7.41 L335.41,7.38 L335.80,7.34 L336.19,7.31 L336.59,7.27 L336.98,7.24 L337.37,7.21 L337.76,7.18 L338.15,7.15 L338.54,7.12 L338.94,7.09 L339.33,7.06 L339.72,7.03 L340.11,7.00 L340.50,6.97 L340.90,6.94 L341.29,6.91 L341.68,6.89 L342.07,6.86 L342.46,6.83 L342.85,6.81 L343.25,6.78 L343.64,6.76 L344.03,6.73 L344.42,6.71 L344.81,6.69 L345.21,6.66 L345.60,6.64 L345.99,6.62 L346.38,6.60 L346.77,6.58 L347.16,6.55 L347.56,6.53 L347.95,6.51 L348.34,6.49 L348.73,6.47 L349.12,6.45 L349.52,6.44 L349.91,6.42 L350.30,6.40 L350.69,6.38 L351.08,6.36 L351.47,6.35 L351.87,6.33 L352.26,6.31 L352.65,6.30 L353.04,6.28 L353.43,6.27 L353.83,6.25 L354.22,6.24 L354.61,6.22 L355.00,6.21 L355.39,6.19 L355.78,6.18 L356.18,6.17 L356.57,6.15 L356.96,6.14 L357.35,6.13 L357.74,6.12 L358.14,6.10 L358.53,6.09 L358.92,6.08 L359.31,6.07 L359.70,6.06 L360.09,6.05 L360.49,6.04 L360.88,6.03 L361.27,6.02 L361.66,6.01 L362.05,6.00 L362.45,5.99 L362.84,5.98 L363.23,5.97 L363.62,5.97 L364.01,5.96 L364.40,5.95 L364.80,5.94 L365.19,5.94 L365.58,5.93 L365.97,5.92 L366.36,5.91 L366.76,5.91 L367.15,5.90 L367.54,5.90 L367.93,5.89 L368.32,5.88 L368.71,5.88 L369.11,5.87 L369.50,5.87 L369.89,5.86 L370.28,5.86 L370.67,5.85 L371.07,5.85 L371.46,5.84 L371.85,5.84 L372.24,5.84 L372.63,5.83 L373.02,5.83 L373.42,5.83 L373.81,5.82 L374.20,5.82 L374.59,5.82 L374.98,5.81 L375.38,5.81 L375.77,5.81 L376.16,5.81 L376.55,5.80 L376.94,5.80 L377.33,5.80 L377.73,5.80 L378.12,5.79 L378.51,5.79 L378.90,5.79 L379.29,5.79 L379.69,5.79 L380.08,5.79 L380.47,5.79 L380.86,5.79 L381.25,5.78 L381.64,5.78 L382.04,5.78 L382.43,5.78 L382.82,5.78 L383.21,5.78 L383.60,5.78 L384.00,5.78 L384.39,5.78 L384.78,5.78 L385.17,5.78 L385.56,5.78 L385.95,5.78 L386.35,5.78 L386.74,5.78 L387.13,5.78 L387.52,5.78 L387.91,5.78 L388.31,5.78 L388.70,5.78 L389.09,5.78 L389.48,5.78 L389.87,5.79 L390.26,5.79 L390.66,5.79 L391.05,5.79 L391.44,5.79 L391.83,5.79 L392.22,5.79 L392.62,5.79 L393.01,5.79 L393.40,5.79 L393.79,5.80 L394.18,5.80 L394.57,5.80 L394.97,5.80 L395.36,5.80 L395.75,5.80 L396.14,5.80 L396.53,5.81 L396.93,5.81 L397.32,5.81 L397.71,5.81 L398.10,5.81 L398.49,5.81 L398.88,5.82 L399.28,5.82 L399.67,5.82 L400.06,5.82 L400.45,5.82 L400.84,5.82 L401.24,5.83 L401.63,5.83 L402.02,5.83 L402.41,5.83 L402.80,5.83 L403.19,5.83 L403.59,5.84 L403.98,5.84 L404.37,5.84 L404.76,5.84 L405.15,5.84 L405.55,5.85 L405.94,5.85 L406.33,5.85 L406.72,5.85 L407.11,5.85 L407.50,5.85 L407.90,5.86 L408.29,5.86 L408.68,5.86 L409.07,5.86 L409.46,5.86 L409.86,5.86 L410.25,5.87 L410.64,5.87 L411.03,5.87 L411.42,5.87 L411.81,5.87 L412.21,5.87 L412.60,5.88 L412.99,5.88 L413.38,5.88 L413.77,5.88 L414.17,5.88 L414.56,5.88 L414.95,5.89 L415.34,5.89 L415.73,5.89 L416.12,5.89 L416.52,5.89 L416.91,5.89 L417.30,5.89 L417.69,5.89 L418.08,5.90 L418.48,5.90 L418.87,5.90 L419.26,5.90 L419.65,5.90 L420.04,5.90 L420.43,5.90 L420.83,5.90 L421.22,5.91 L421.61,5.91 L422.00,5.91 L422.39,5.91 L422.79,5.91 L423.18,5.91 L423.57,5.91 L423.96,5.91 L424.35,5.91 L424.74,5.91 L425.14,5.91 L425.53,5.91 L425.92,5.91 L426.31,5.92 L426.70,5.92 L427.10,5.92 L427.49,5.92 L427.88,5.92 L428.27,5.92 L428.66,5.92 L429.05,5.92 L429.45,5.92 L429.84,5.92 L430.23,5.92 L430.62,5.92 L431.01,5.92 L431.41,5.92 L431.80,5.92 L432.19,5.92 L432.58,5.92 L432.97,5.92 L433.36,5.92 L433.76,5.92 L434.15,5.92 L434.54,5.92 L434.93,5.92 L435.32,5.92 L435.72,5.92 L436.11,5.92 L436.50,5.92 L436.89,5.92 L437.28,5.92 L437.67,5.92 L438.07,5.92 L438.46,5.92 L438.85,5.92 L439.24,5.91 L439.63,5.91 L440.03,5.91 L440.42,5.91 L440.81,5.91 L441.20,5.91 L441.59,5.91 L441.99,5.91 L442.38,5.91 L442.77,5.91 L443.16,5.91 L443.55,5.91 L443.94,5.91 L444.34,5.90 L444.73,5.90 L445.12,5.90 L445.51,5.90 L445.90,5.90 L446.30,5.90 L446.69,5.90 L447.08,5.90 L447.47,5.90 L447.86,5.89 L448.25,5.89 L448.65,5.89 L449.04,5.89 L449.43,5.89 L449.82,5.89 L450.21,5.89 L450.61,5.88 L451.00,5.88 L451.39,5.88 L451.78,5.88 L452.17,5.88 L452.56,5.88 L452.96,5.88 L453.35,5.87 L453.74,5.87 L454.13,5.87 L454.52,5.87 L454.92,5.87 L455.31,5.87 L455.70,5.86 L456.09,5.86 L456.48,5.86 L456.87,5.86 L457.27,5.86 L457.66,5.86 L458.05,5.85 L458.44,5.85 L458.83,5.85 L459.23,5.85 L459.62,5.85 L460.01,5.85 L460.40,5.84 L460.79,5.84 L461.18,5.84 L461.58,5.84 L461.97,5.84 L462.36,5.84 L462.75,5.83 L463.14,5.83 L463.54,5.83 L463.93,5.83 L464.32,5.83 L464.71,5.83 L465.10,5.82 L465.49,5.82 L465.89,5.82 L466.28,5.82 L466.67,5.82 L467.06,5.82 L467.45,5.81 L467.85,5.81 L468.24,5.81 L468.63,5.81 L469.02,5.81 L469.41,5.81 L469.80,5.81 L470.20,5.80 L470.59,5.80 L470.98,5.80 L471.37,5.80 L471.76,5.80 L472.16,5.80 L472.55,5.80 L472.94,5.80 L473.33,5.79 L473.72,5.79 L474.11,5.79 L474.51,5.79 L474.90,5.79 L475.29,5.79 L475.68,5.79 L476.07,5.79 L476.47,5.79 L476.86,5.79 L477.25,5.78 L477.64,5.78 L478.03,5.78 L478.42,5.78 L478.82,5.78 L479.21,5.78 L479.60,5.78 L479.99,5.78 L480.38,5.78 L480.78,5.78 L481.17,5.78 L481.56,5.78 L481.95,5.78 L482.34,5.78 L482.73,5.78 L483.13,5.78 L483.52,5.78 L483.91,5.78 L484.30,5.78 L484.69,5.78 L485.09,5.78 L485.48,5.78 L485.87,5.78 L486.26,5.78 L486.65,5.78 L487.04,5.79 L487.44,5.79 L487.83,5.79 L488.22,5.79 L488.61,5.79 L489.00,5.79 L489.40,5.79 L489.79,5.79 L490.18,5.80 L490.57,5.80 L490.96,5.80 L491.35,5.80 L491.75,5.80 L492.14,5.80 L492.53,5.81 L492.92,5.81 L493.31,5.81 L493.71,5.81 L494.10,5.82 L494.49,5.82 L494.88,5.82 L495.27,5.82 L495.66,5.83 L496.06,5.83 L496.45,5.83 L496.84,5.84 L497.23,5.84 L497.62,5.84 L498.02,5.85 L498.41,5.85 L498.80,5.85 L499.19,5.86 L499.58,5.86 L499.97,5.87 L500.37,5.87 L500.76,5.88 L501.15,5.88 L501.54,5.89 L501.93,5.89 L502.33,5.90 L502.72,5.90 L503.11,5.91 L503.50,5.91 L503.89,5.92 L504.28,5.92 L504.68,5.93 L505.07,5.93 L505.46,5.94 L505.85,5.95 L506.24,5.95 L506.64,5.96 L507.03,5.97 L507.42,5.97 L507.81,5.98 L508.20,5.99 L508.59,5.99 L508.99,6.00 L509.38,6.01 L509.77,6.02 L510.16,6.03 L510.55,6.03 L510.95,6.04 L511.34,6.05 L511.73,6.06 L512.12,6.07 L512.51,6.08 L512.90,6.09 L513.30,6.10 L513.69,6.11 L514.08,6.12 L514.47,6.13 L514.86,6.14 L515.26,6.15 L515.65,6.16 L516.04,6.17 L516.43,6.18 L516.82,6.19 L517.21,6.20 L517.61,6.21 L518.00,6.23 L518.39,6.24 L518.78,6.25 L519.17,6.26 L519.57,6.28 L519.96,6.29 L520.35,6.30 L520.74,6.32 L521.13,6.33 L521.52,6.34 L521.92,6.36 L522.31,6.37 L522.70,6.39 L523.09,6.40 L523.48,6.42 L523.88,6.43 L524.27,6.45 L524.66,6.46 L525.05,6.48 L525.44,6.49 L525.83,6.51 L526.23,6.53 L526.62,6.55 L527.01,6.56 L527.40,6.58 L527.79,6.60 L528.19,6.62 L528.58,6.63 L528.97,6.65 L529.36,6.67 L529.75,6.69 L530.14,6.71 L530.54,6.73 L530.93,6.75 L531.32,6.77 L531.71,6.79 L532.10,6.81 L532.50,6.83 L532.89,6.85 L533.28,6.88 L533.67,6.90 L534.06,6.92 L534.45,6.94 L534.85,6.97 L535.24,6.99 L535.63,7.01 L536.02,7.04 L536.41,7.06 L536.81,7.08 L537.20,7.11 L537.59,7.13 L537.98,7.16 L538.37,7.18 L538.76,7.21 L539.16,7.24 L539.55,7.26 L539.94,7.29 L540.33,7.32 L540.72,7.34 L541.12,7.37 L541.51,7.40 L541.90,7.43 L542.29,7.45 L542.68,7.48 L543.07,7.51 L543.47,7.54 L543.86,7.57 L544.25,7.60 L544.64,7.63 L545.03,7.66 L545.43,7.69 L545.82,7.72 L546.21,7.76 L546.60,7.79 L546.99,7.82 L547.38,7.85 L547.78,7.89 L548.17,7.92 L548.56,7.95 L548.95,7.99 L549.34,8.02 L549.74,8.05 L550.13,8.09 L550.52,8.12 L550.91,8.16 L551.30,8.19 L551.69,8.23 L552.09,8.27 L552.48,8.30 L552.87,8.34 L553.26,8.38 L553.65,8.41 L554.05,8.45 L554.44,8.49 L554.83,8.53 L555.22,8.57 L555.61,8.61 L556.01,8.64 L556.40,8.68 L556.79,8.72 L557.18,8.76 L557.57,8.80 L557.96,8.85 L558.36,8.89 L558.75,8.93 L559.14,8.97 L559.53,9.01 L559.92,9.05 L560.32,9.10 L560.71,9.14 L561.10,9.18 L561.49,9.23 L561.88,9.27 L562.27,9.32 L562.67,9.36 L563.06,9.40 L563.45,9.45 L563.84,9.50 L564.23,9.54 L564.63,9.59 L565.02,9.63 L565.41,9.68 L565.80,9.73 L566.19,9.78 L566.58,9.82 L566.98,9.87 L567.37,9.92 L567.76,9.97 L568.15,10.02 L568.54,10.07 L568.94,10.12 L569.33,10.17 L569.72,10.22 L570.11,10.27 L570.50,10.32 L570.89,10.37 L571.29,10.42 L571.68,10.47 L572.07,10.52 L572.46,10.58 L572.85,10.63 L573.25,10.68 L573.64,10.73 L574.03,10.79 L574.42,10.84 L574.81,10.90 L575.20,10.95 L575.60,11.01 L575.99,11.06 L576.38,11.12 L576.77,11.17 L577.16,11.23 L577.56,11.29 L577.95,11.34 L578.34,11.40 L578.73,11.46 L579.12,11.51 L579.51,11.57 L579.91,11.63 L580.30,11.69 L580.69,11.75 L581.08,11.81 L581.47,11.87 L581.87,11.93 L582.26,11.99 L582.65,12.05 L583.04,12.11 L583.43,12.17 L583.82,12.23 L584.22,12.29 L584.61,12.35 L585.00,12.42 L585.39,12.48 L585.78,12.54 L586.18,12.60 L586.57,12.67 L586.96,12.73 L587.35,12.80 L587.74,12.86 L588.13,12.92 L588.53,12.99 L588.92,13.05 L589.31,13.12 L589.70,13.19 L590.09,13.25 L590.49,13.32 L590.88,13.38 L591.27,13.45 L591.66,13.52 L592.05,13.59 L592.44,13.65 L592.84,13.72 L593.23,13.79 L593.62,13.86 L594.01,13.93 L594.40,14.00 L594.80,14.07 L595.19,14.14 L595.58,14.21 L595.97,14.28 L596.36,14.35 L596.75,14.42 L597.15,14.49 L597.54,14.56 L597.93,14.63 L598.32,14.71 L598.71,14.78 L599.11,14.85 L599.50,14.92 L599.89,15.00 L600.28,15.07 L600.67,15.14 L601.06,15.22 L601.46,15.29 L601.85,15.37 L602.24,15.44 L602.63,15.52 L603.02,15.59 L603.42,15.67 L603.81,15.74 L604.20,15.82 L604.59,15.90 L604.98,15.97 L605.37,16.05 L605.77,16.13 L606.16,16.21 L606.55,16.28" stroke="#ff0000"/>
</g>
<path d="M462.4,50.2 H503.7" stroke="#0000ff" stroke-width="1.65" fill="none"/>
<path d="M462.4,65.55 H503.7" stroke="#ff0000" stroke-width="1.65" fill="none"/>
<rect x="58.00" y="5.78" width="548.55" height="320.77" fill="none" stroke="#000" stroke-opacity="0.72" stroke-width="0.8"/>
<g font-family="'Liberation Serif', serif" font-size="15.3" fill="#000" stroke="#000" stroke-width="0.3">
<text x="453.3" y="54.4" text-anchor="end" textLength="79.3" lengthAdjust="spacing">Return Loss</text>
<text x="453.3" y="69.7" text-anchor="end" textLength="55.6" lengthAdjust="spacing">Through</text>
<text font-size="14.6" x="48.6" y="10.58" text-anchor="end">0</text>
<text font-size="14.6" x="48.6" y="35.25" text-anchor="end" textLength="7.25" lengthAdjust="spacing">3</text>
<text font-size="14.6" transform="translate(40.35 35.25) scale(1.3 1)" x="0" y="0" text-anchor="end">−</text>
<text font-size="14.6" x="48.6" y="59.93" text-anchor="end" textLength="7.25" lengthAdjust="spacing">6</text>
<text font-size="14.6" transform="translate(40.35 59.93) scale(1.3 1)" x="0" y="0" text-anchor="end">−</text>
<text font-size="14.6" x="48.6" y="84.60" text-anchor="end" textLength="7.25" lengthAdjust="spacing">9</text>
<text font-size="14.6" transform="translate(40.35 84.60) scale(1.3 1)" x="0" y="0" text-anchor="end">−</text>
<text font-size="14.6" x="48.6" y="109.28" text-anchor="end" textLength="14.50" lengthAdjust="spacing">12</text>
<text font-size="14.6" transform="translate(33.10 109.28) scale(1.3 1)" x="0" y="0" text-anchor="end">−</text>
<text font-size="14.6" x="48.6" y="133.95" text-anchor="end" textLength="14.50" lengthAdjust="spacing">15</text>
<text font-size="14.6" transform="translate(33.10 133.95) scale(1.3 1)" x="0" y="0" text-anchor="end">−</text>
<text font-size="14.6" x="48.6" y="158.63" text-anchor="end" textLength="14.50" lengthAdjust="spacing">18</text>
<text font-size="14.6" transform="translate(33.10 158.63) scale(1.3 1)" x="0" y="0" text-anchor="end">−</text>
<text font-size="14.6" x="48.6" y="183.30" text-anchor="end" textLength="14.50" lengthAdjust="spacing">21</text>
<text font-size="14.6" transform="translate(33.10 183.30) scale(1.3 1)" x="0" y="0" text-anchor="end">−</text>
<text font-size="14.6" x="48.6" y="207.98" text-anchor="end" textLength="14.50" lengthAdjust="spacing">24</text>
<text font-size="14.6" transform="translate(33.10 207.98) scale(1.3 1)" x="0" y="0" text-anchor="end">−</text>
<text font-size="14.6" x="48.6" y="232.65" text-anchor="end" textLength="14.50" lengthAdjust="spacing">27</text>
<text font-size="14.6" transform="translate(33.10 232.65) scale(1.3 1)" x="0" y="0" text-anchor="end">−</text>
<text font-size="14.6" x="48.6" y="257.33" text-anchor="end" textLength="14.50" lengthAdjust="spacing">30</text>
<text font-size="14.6" transform="translate(33.10 257.33) scale(1.3 1)" x="0" y="0" text-anchor="end">−</text>
<text font-size="14.6" x="48.6" y="282.00" text-anchor="end" textLength="14.50" lengthAdjust="spacing">33</text>
<text font-size="14.6" transform="translate(33.10 282.00) scale(1.3 1)" x="0" y="0" text-anchor="end">−</text>
<text font-size="14.6" x="48.6" y="306.68" text-anchor="end" textLength="14.50" lengthAdjust="spacing">36</text>
<text font-size="14.6" transform="translate(33.10 306.68) scale(1.3 1)" x="0" y="0" text-anchor="end">−</text>
<text font-size="14.6" x="48.6" y="331.35" text-anchor="end" textLength="14.50" lengthAdjust="spacing">39</text>
<text font-size="14.6" transform="translate(33.10 331.35) scale(1.3 1)" x="0" y="0" text-anchor="end">−</text>
<text font-size="14.6" x="57.80" y="346" text-anchor="middle">0</text>
<text font-size="14.6" x="136.16" y="346" text-anchor="middle" textLength="14.40" lengthAdjust="spacing">50</text>
<text font-size="14.6" x="214.53" y="346" text-anchor="middle" textLength="21.70" lengthAdjust="spacing">100</text>
<text font-size="14.6" x="292.89" y="346" text-anchor="middle" textLength="21.70" lengthAdjust="spacing">150</text>
<text font-size="14.6" x="371.26" y="346" text-anchor="middle" textLength="21.70" lengthAdjust="spacing">200</text>
<text font-size="14.6" x="449.62" y="346" text-anchor="middle" textLength="21.70" lengthAdjust="spacing">250</text>
<text font-size="14.6" x="527.99" y="346" text-anchor="middle" textLength="21.70" lengthAdjust="spacing">300</text>
<text font-size="14.6" x="606.35" y="346" text-anchor="middle" textLength="21.70" lengthAdjust="spacing">350</text>
<text x="331.6" y="368.1" text-anchor="middle" textLength="108.6" lengthAdjust="spacing">Frequency [GHz]</text>
<text transform="translate(11.9 166.6) rotate(-90)" x="0" y="0" text-anchor="middle" textLength="91.7" lengthAdjust="spacing">Response [dB]</text>
</g>
<rect x="97" y="211.2" width="255.7" height="99.4" fill="#fd8a1c"/>
<rect x="97" y="257.4" width="255.7" height="5.1" fill="#41d96c"/>
<rect x="129" y="232.9" width="36.7" height="54" fill="#f8f2a2"/>
<rect x="285.2" y="232.8" width="36.8" height="54.1" fill="#f8f2a2"/>
<rect x="129" y="257.4" width="4.3" height="5.1" fill="#42f596"/>
<rect x="317.6" y="257.4" width="4.4" height="5.1" fill="#42f596"/>
<rect x="159.2" y="256.2" width="6.5" height="7.5" fill="#fd8a1c"/>
<rect x="285.2" y="256.2" width="6.9" height="7.5" fill="#fd8a1c"/>
<rect x="133.3" y="237.2" width="25.9" height="45.5" fill="#41d96c"/>
<rect x="292.1" y="237.4" width="25.5" height="45.4" fill="#41d96c"/>
<path d="M165.7,238.5 Q225.3,236.9 285.2,238.5 L285.2,281.5 Q225.3,284 165.7,281.5 Z" fill="#41d96c"/>
<rect x="165.7" y="247.9" width="119.5" height="8.2" fill="#42f596"/>
<rect x="165.7" y="263.8" width="119.5" height="8.4" fill="#42f596"/>
<g stroke="#000" stroke-width="0.9" fill="none">
<path d="M216.8,227.2 L161,237.35"/>
<path d="M233.0,227.2 L289.8,237.7"/>
<path d="M288.9,288.6 V267"/>
<path d="M224.9,288.6 V284"/>
<path d="M328.6,291 L323.4,285"/>
</g>
<path d="M159.70,237.60 L162.88,238.34 L162.42,235.78 Z" fill="#000"/>
<path d="M290.90,237.90 L288.19,236.08 L287.71,238.63 Z" fill="#000"/>
<path d="M288.90,265.10 L287.60,268.10 L290.20,268.10 Z" fill="#000"/>
<path d="M224.90,282.90 L223.60,285.90 L226.20,285.90 Z" fill="#000"/>
<path d="M322.40,284.00 L323.42,287.11 L325.36,285.38 Z" fill="#000"/>
<circle cx="224.9" cy="225.4" r="7.9" fill="#fff" stroke="#000" stroke-width="1.05"/>
<circle cx="224.9" cy="296.9" r="7.9" fill="#fff" stroke="#000" stroke-width="1.05"/>
<circle cx="288.7" cy="296.9" r="7.9" fill="#fff" stroke="#000" stroke-width="1.05"/>
<circle cx="334.4" cy="296.9" r="7.9" fill="#fff" stroke="#000" stroke-width="1.05"/>
<text transform="scale(0.90 1)" x="249.89 249.89 320.78 371.56" y="229.10 300.60 300.60 300.60" text-anchor="middle" font-family="'Liberation Sans', sans-serif" font-weight="bold" font-size="10.8" fill="#000">1423</text>
</svg>
</body></html>
